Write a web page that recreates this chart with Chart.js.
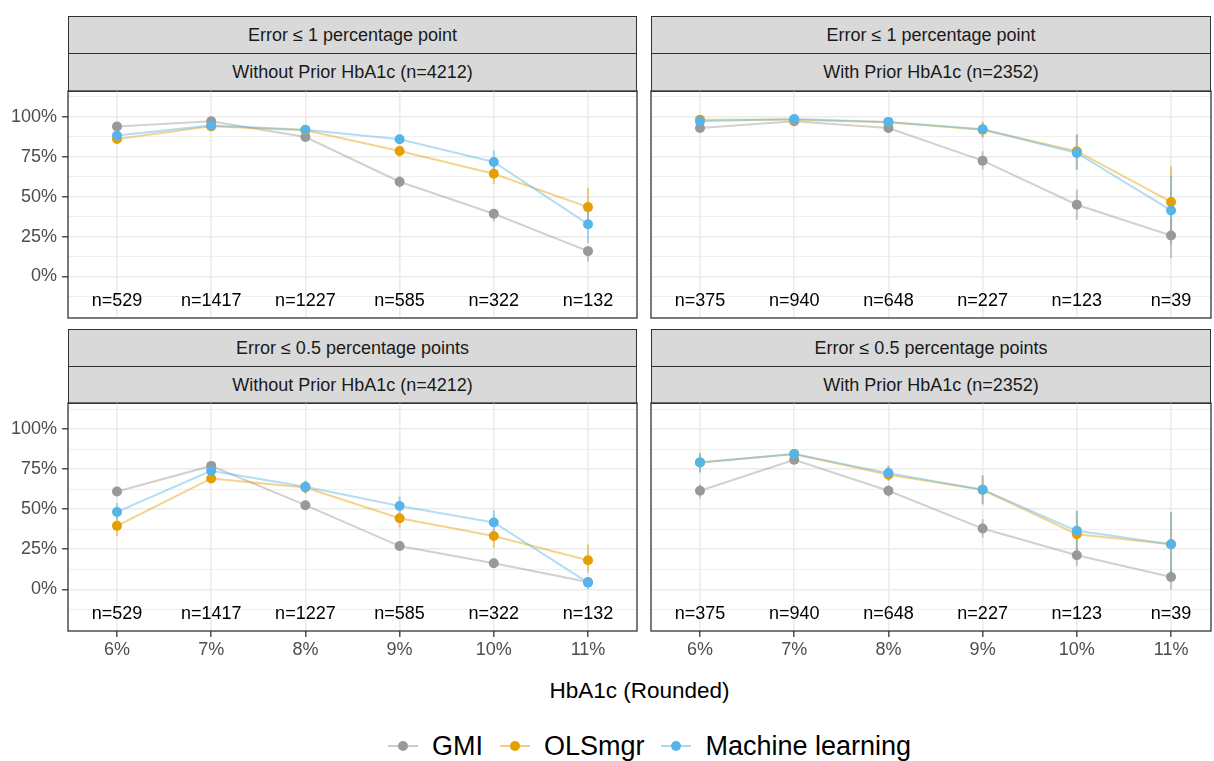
<!DOCTYPE html>
<html>
<head>
<meta charset="utf-8">
<script src="https://cdn.jsdelivr.net/npm/chart.js@4.4.1/dist/chart.umd.min.js"></script>
<style>
  body { margin: 0; background: #fff; font-family: "Liberation Sans", Arial, sans-serif; }
  #fig { position: relative; width: 1214px; height: 761px; overflow: hidden; background: #fff; }
  .strip { position: absolute; box-sizing: border-box; background: #d9d9d9; border: 1.3px solid #333;
           color: #1a1a1a; font-size: 18px; display: flex; align-items: center; justify-content: center; }
  canvas { position: absolute; }
  #xtitle { position: absolute; left: 68px; width: 1143px; top: 677px; line-height: 28px; text-align: center; font-size: 22.5px; color: #000; }
  #legend { position: absolute; left: 78px; width: 1143px; top: 731px; height: 30px; display: flex; justify-content: center; align-items: center; font-size: 27px; color: #000; }
  .item { display: flex; align-items: center; margin: 0 8.5px; }
  .key { position: relative; display: inline-block; width: 30px; height: 20px; margin-right: 14px; }
  .key::before { content: ""; position: absolute; left: 0; right: 0; top: 9px; height: 2.4px; background: var(--l); }
  .key::after { content: ""; position: absolute; left: 10px; top: 5.2px; width: 10px; height: 10px; border-radius: 50%; background: var(--c); }
</style>
</head>
<body>
<div id="fig">
  <div class="strip" style="left:68px;top:16px;width:569px;height:38px">Error ≤ 1 percentage point</div>
  <div class="strip" style="left:68px;top:53px;width:569px;height:39px">Without Prior HbA1c (n=4212)</div>
  <div class="strip" style="left:651px;top:16px;width:560px;height:38px">Error ≤ 1 percentage point</div>
  <div class="strip" style="left:651px;top:53px;width:560px;height:39px">With Prior HbA1c (n=2352)</div>
  <div class="strip" style="left:68px;top:329px;width:569px;height:38px">Error ≤ 0.5 percentage points</div>
  <div class="strip" style="left:68px;top:366px;width:569px;height:38px">Without Prior HbA1c (n=4212)</div>
  <div class="strip" style="left:651px;top:329px;width:560px;height:38px">Error ≤ 0.5 percentage points</div>
  <div class="strip" style="left:651px;top:366px;width:560px;height:38px">With Prior HbA1c (n=2352)</div>

  <canvas id="p1WithoutChart"></canvas>
  <canvas id="p1WithChart"></canvas>
  <canvas id="p05WithoutChart"></canvas>
  <canvas id="p05WithChart"></canvas>

  <div id="xtitle">HbA1c (Rounded)</div>
  <div id="legend">
    <span class="item"><span class="key" style="--c:#999999;--l:rgba(153,153,153,0.5)"></span>GMI</span>
    <span class="item"><span class="key" style="--c:#E69F00;--l:rgba(230,159,0,0.5)"></span>OLSmgr</span>
    <span class="item"><span class="key" style="--c:#56B4E9;--l:rgba(86,180,233,0.5)"></span>Machine learning</span>
  </div>
</div>
<script>
const hba1cLabels = ['6%', '7%', '8%', '9%', '10%', '11%'];
const yMajorTicks = [0, 0.25, 0.5, 0.75, 1];
const yMinorTicks = [-0.125, 0.125, 0.375, 0.625, 0.875, 1.125];
const nWithout = ['n=529', 'n=1417', 'n=1227', 'n=585', 'n=322', 'n=132'];
const nWith = ['n=375', 'n=940', 'n=648', 'n=227', 'n=123', 'n=39'];

// Error <= 1 percentage point, without prior HbA1c
const gmi1Without = [0.94, 0.973, 0.874, 0.594, 0.393, 0.159];
const ols1Without = [0.862, 0.941, 0.916, 0.787, 0.644, 0.435];
const ml1Without = [0.883, 0.946, 0.92, 0.86, 0.718, 0.328];
const gmi1WithoutCI = [[0.92, 0.96], [0.965, 0.98], [0.855, 0.89], [0.555, 0.63], [0.345, 0.42], [0.095, 0.19]];
const ols1WithoutCI = [[0.83, 0.89], [0.93, 0.955], [0.9, 0.93], [0.75, 0.82], [0.58, 0.69], [0.31, 0.555]];
const ml1WithoutCI = [[0.855, 0.91], [0.935, 0.96], [0.9, 0.935], [0.835, 0.885], [0.65, 0.79], [0.21, 0.46]];

// Error <= 1 percentage point, with prior HbA1c
const gmi1With = [0.931, 0.973, 0.931, 0.726, 0.45, 0.257];
const ols1With = [0.983, 0.983, 0.967, 0.92, 0.785, 0.467];
const ml1With = [0.973, 0.987, 0.969, 0.923, 0.774, 0.414];
const gmi1WithCI = [[0.905, 0.955], [0.96, 0.985], [0.91, 0.95], [0.67, 0.785], [0.356, 0.544], [0.115, 0.36]];
const ols1WithCI = [[0.965, 0.995], [0.975, 0.99], [0.95, 0.98], [0.87, 0.97], [0.67, 0.89], [0.25, 0.69]];
const ml1WithCI = [[0.955, 0.99], [0.978, 0.993], [0.95, 0.98], [0.875, 0.965], [0.67, 0.89], [0.2, 0.63]];

// Error <= 0.5 percentage points, without prior HbA1c
const gmi05Without = [0.61, 0.77, 0.525, 0.27, 0.163, 0.046];
const ols05Without = [0.396, 0.692, 0.635, 0.444, 0.333, 0.181];
const ml05Without = [0.483, 0.74, 0.64, 0.52, 0.417, 0.042];
const gmi05WithoutCI = [[0.58, 0.64], [0.745, 0.79], [0.5, 0.55], [0.24, 0.296], [0.135, 0.187], [0.03, 0.06]];
const ols05WithoutCI = [[0.333, 0.448], [0.665, 0.72], [0.6, 0.677], [0.385, 0.48], [0.26, 0.375], [0.104, 0.28]];
const ml05WithoutCI = [[0.438, 0.538], [0.715, 0.765], [0.6, 0.677], [0.46, 0.58], [0.354, 0.494], [0.0, 0.073]];

// Error <= 0.5 percentage points, with prior HbA1c
const gmi05With = [0.615, 0.808, 0.615, 0.379, 0.213, 0.077];
const ols05With = [0.792, 0.844, 0.715, 0.621, 0.344, 0.281];
const ml05With = [0.792, 0.844, 0.725, 0.621, 0.365, 0.281];
const gmi05WithCI = [[0.567, 0.656], [0.78, 0.835], [0.578, 0.65], [0.323, 0.438], [0.146, 0.26], [0.0, 0.125]];
const ols05WithCI = [[0.73, 0.85], [0.81, 0.865], [0.677, 0.77], [0.53, 0.71], [0.23, 0.49], [0.08, 0.483]];
const ml05WithCI = [[0.73, 0.85], [0.81, 0.865], [0.68, 0.77], [0.53, 0.71], [0.23, 0.49], [0.08, 0.483]];

Chart.defaults.font.family = '"Liberation Sans", Arial, sans-serif';

const isMajor = v => yMajorTicks.some(t => Math.abs(t - v) < 1e-6);

// vertical interval lines behind the points
const intervalPlugin = {
    id: 'intervals',
    beforeDatasetsDraw(chart) {
        const c = chart.ctx, xs = chart.scales.x, ys = chart.scales.y, a = chart.chartArea;
        c.save();
        c.beginPath();
        c.rect(a.left, a.top, a.right - a.left, a.bottom - a.top);
        c.clip();
        chart.data.datasets.slice().sort((p, q) => q.order - p.order).forEach(ds => {
            c.strokeStyle = ds.intervalColor;
            c.lineWidth = 2;
            ds.ci.forEach((r, i) => {
                const x = xs.getPixelForValue(i);
                c.beginPath();
                c.moveTo(x, ys.getPixelForValue(r[0]));
                c.lineTo(x, ys.getPixelForValue(r[1]));
                c.stroke();
            });
        });
        c.restore();
    }
};

// sample size labels inside each panel
const countPlugin = {
    id: 'counts',
    afterDatasetsDraw(chart, args, opts) {
        const c = chart.ctx, xs = chart.scales.x, ys = chart.scales.y;
        c.save();
        c.font = '18px "Liberation Sans", Arial, sans-serif';
        c.fillStyle = '#000';
        c.textAlign = 'center';
        c.textBaseline = 'middle';
        opts.labels.forEach((t, i) => c.fillText(t, xs.getPixelForValue(i), ys.getPixelForValue(-0.155)));
        c.restore();
    }
};

const borderPlugin = {
    id: 'panelBorder',
    afterDraw(chart) {
        const a = chart.chartArea, c = chart.ctx;
        c.save();
        c.strokeStyle = '#333';
        c.lineWidth = 1.3;
        c.strokeRect(a.left, a.top, a.right - a.left, a.bottom - a.top);
        c.restore();
    }
};

// no automatic label padding: the plot area must land exactly where the strips end
function noPadding(axis) {
    axis.paddingTop = 0;
    axis.paddingBottom = 0;
    axis.paddingLeft = 0;
    axis.paddingRight = 0;
}

function renderPanel(id, p) {
    const axisW = p.showY ? 68 : 0;
    const axisH = p.showX ? 34 : 0;
    const canvas = document.getElementById(id);
    canvas.width = p.w + axisW + 2;
    canvas.height = p.h + axisH + 2;
    canvas.style.left = (p.left - axisW - 1) + 'px';
    canvas.style.top = (p.top - 1) + 'px';

    const series = [
        { label: 'GMI', data: p.gmi, ci: p.gmiCI, rgb: '153,153,153', hex: '#999999', order: 3 },
        { label: 'OLSmgr', data: p.ols, ci: p.olsCI, rgb: '230,159,0', hex: '#E69F00', order: 2 },
        { label: 'Machine learning', data: p.ml, ci: p.mlCI, rgb: '86,180,233', hex: '#56B4E9', order: 1 }
    ];

    new Chart(canvas.getContext('2d'), {
        type: 'line',
        data: {
            datasets: series.map(s => ({
                label: s.label,
                data: s.data.map((v, i) => ({ x: i, y: v })),
                ci: s.ci,
                order: s.order,
                intervalColor: `rgba(${s.rgb}, 0.5)`,
                borderColor: `rgba(${s.rgb}, 0.45)`,
                borderWidth: 2,
                pointBackgroundColor: s.hex,
                pointBorderWidth: 0,
                pointRadius: 5,
                tension: 0
            }))
        },
        options: {
            responsive: false,
            animation: false,
            events: [],
            layout: { padding: 1, autoPadding: false },
            plugins: {
                legend: { display: false },
                tooltip: { enabled: false },
                counts: { labels: p.counts }
            },
            scales: {
                x: {
                    type: 'linear',
                    min: -0.52,
                    max: p.xMax,
                    afterBuildTicks: axis => { axis.ticks = hba1cLabels.map((_, i) => ({ value: i })); },
                    afterFit: axis => { axis.height = axisH; noPadding(axis); },
                    ticks: {
                        display: p.showX,
                        autoSkip: false,
                        maxRotation: 0,
                        padding: 2,
                        color: '#4d4d4d',
                        font: { size: 18 },
                        callback: v => hba1cLabels[v]
                    },
                    grid: { color: '#ebebeb', lineWidth: 1.6, drawTicks: p.showX, tickLength: 6, tickColor: '#333', tickWidth: 1.3 },
                    border: { display: false }
                },
                y: {
                    type: 'linear',
                    min: -0.26,
                    max: 1.1625,
                    afterBuildTicks: axis => {
                        axis.ticks = yMajorTicks.concat(yMinorTicks).sort((a, b) => a - b).map(v => ({ value: v }));
                    },
                    afterFit: axis => { axis.width = axisW; noPadding(axis); },
                    ticks: {
                        display: p.showY,
                        autoSkip: false,
                        padding: 5,
                        color: '#4d4d4d',
                        font: { size: 18 },
                        callback: v => isMajor(v) ? Math.round(v * 100) + '%' : ''
                    },
                    grid: {
                        color: '#ebebeb',
                        lineWidth: c => isMajor(c.tick.value) ? 1.6 : 0.8,
                        drawTicks: p.showY,
                        tickLength: 6,
                        tickColor: c => isMajor(c.tick.value) ? '#333' : 'rgba(0,0,0,0)',
                        tickWidth: 1.3
                    },
                    border: { display: false }
                }
            }
        },
        plugins: [intervalPlugin, countPlugin, borderPlugin]
    });
}

renderPanel('p1WithoutChart', {
    left: 68, top: 91, w: 569, h: 227, showX: false, showY: true, xMax: 5.52,
    gmi: gmi1Without, ols: ols1Without, ml: ml1Without,
    gmiCI: gmi1WithoutCI, olsCI: ols1WithoutCI, mlCI: ml1WithoutCI, counts: nWithout
});
renderPanel('p1WithChart', {
    left: 651, top: 91, w: 560, h: 227, showX: false, showY: false, xMax: 5.424,
    gmi: gmi1With, ols: ols1With, ml: ml1With,
    gmiCI: gmi1WithCI, olsCI: ols1WithCI, mlCI: ml1WithCI, counts: nWith
});
renderPanel('p05WithoutChart', {
    left: 68, top: 403, w: 569, h: 228, showX: true, showY: true, xMax: 5.52,
    gmi: gmi05Without, ols: ols05Without, ml: ml05Without,
    gmiCI: gmi05WithoutCI, olsCI: ols05WithoutCI, mlCI: ml05WithoutCI, counts: nWithout
});
renderPanel('p05WithChart', {
    left: 651, top: 403, w: 560, h: 228, showX: true, showY: false, xMax: 5.424,
    gmi: gmi05With, ols: ols05With, ml: ml05With,
    gmiCI: gmi05WithCI, olsCI: ols05WithCI, mlCI: ml05WithCI, counts: nWith
});
</script>
</body>
</html>
